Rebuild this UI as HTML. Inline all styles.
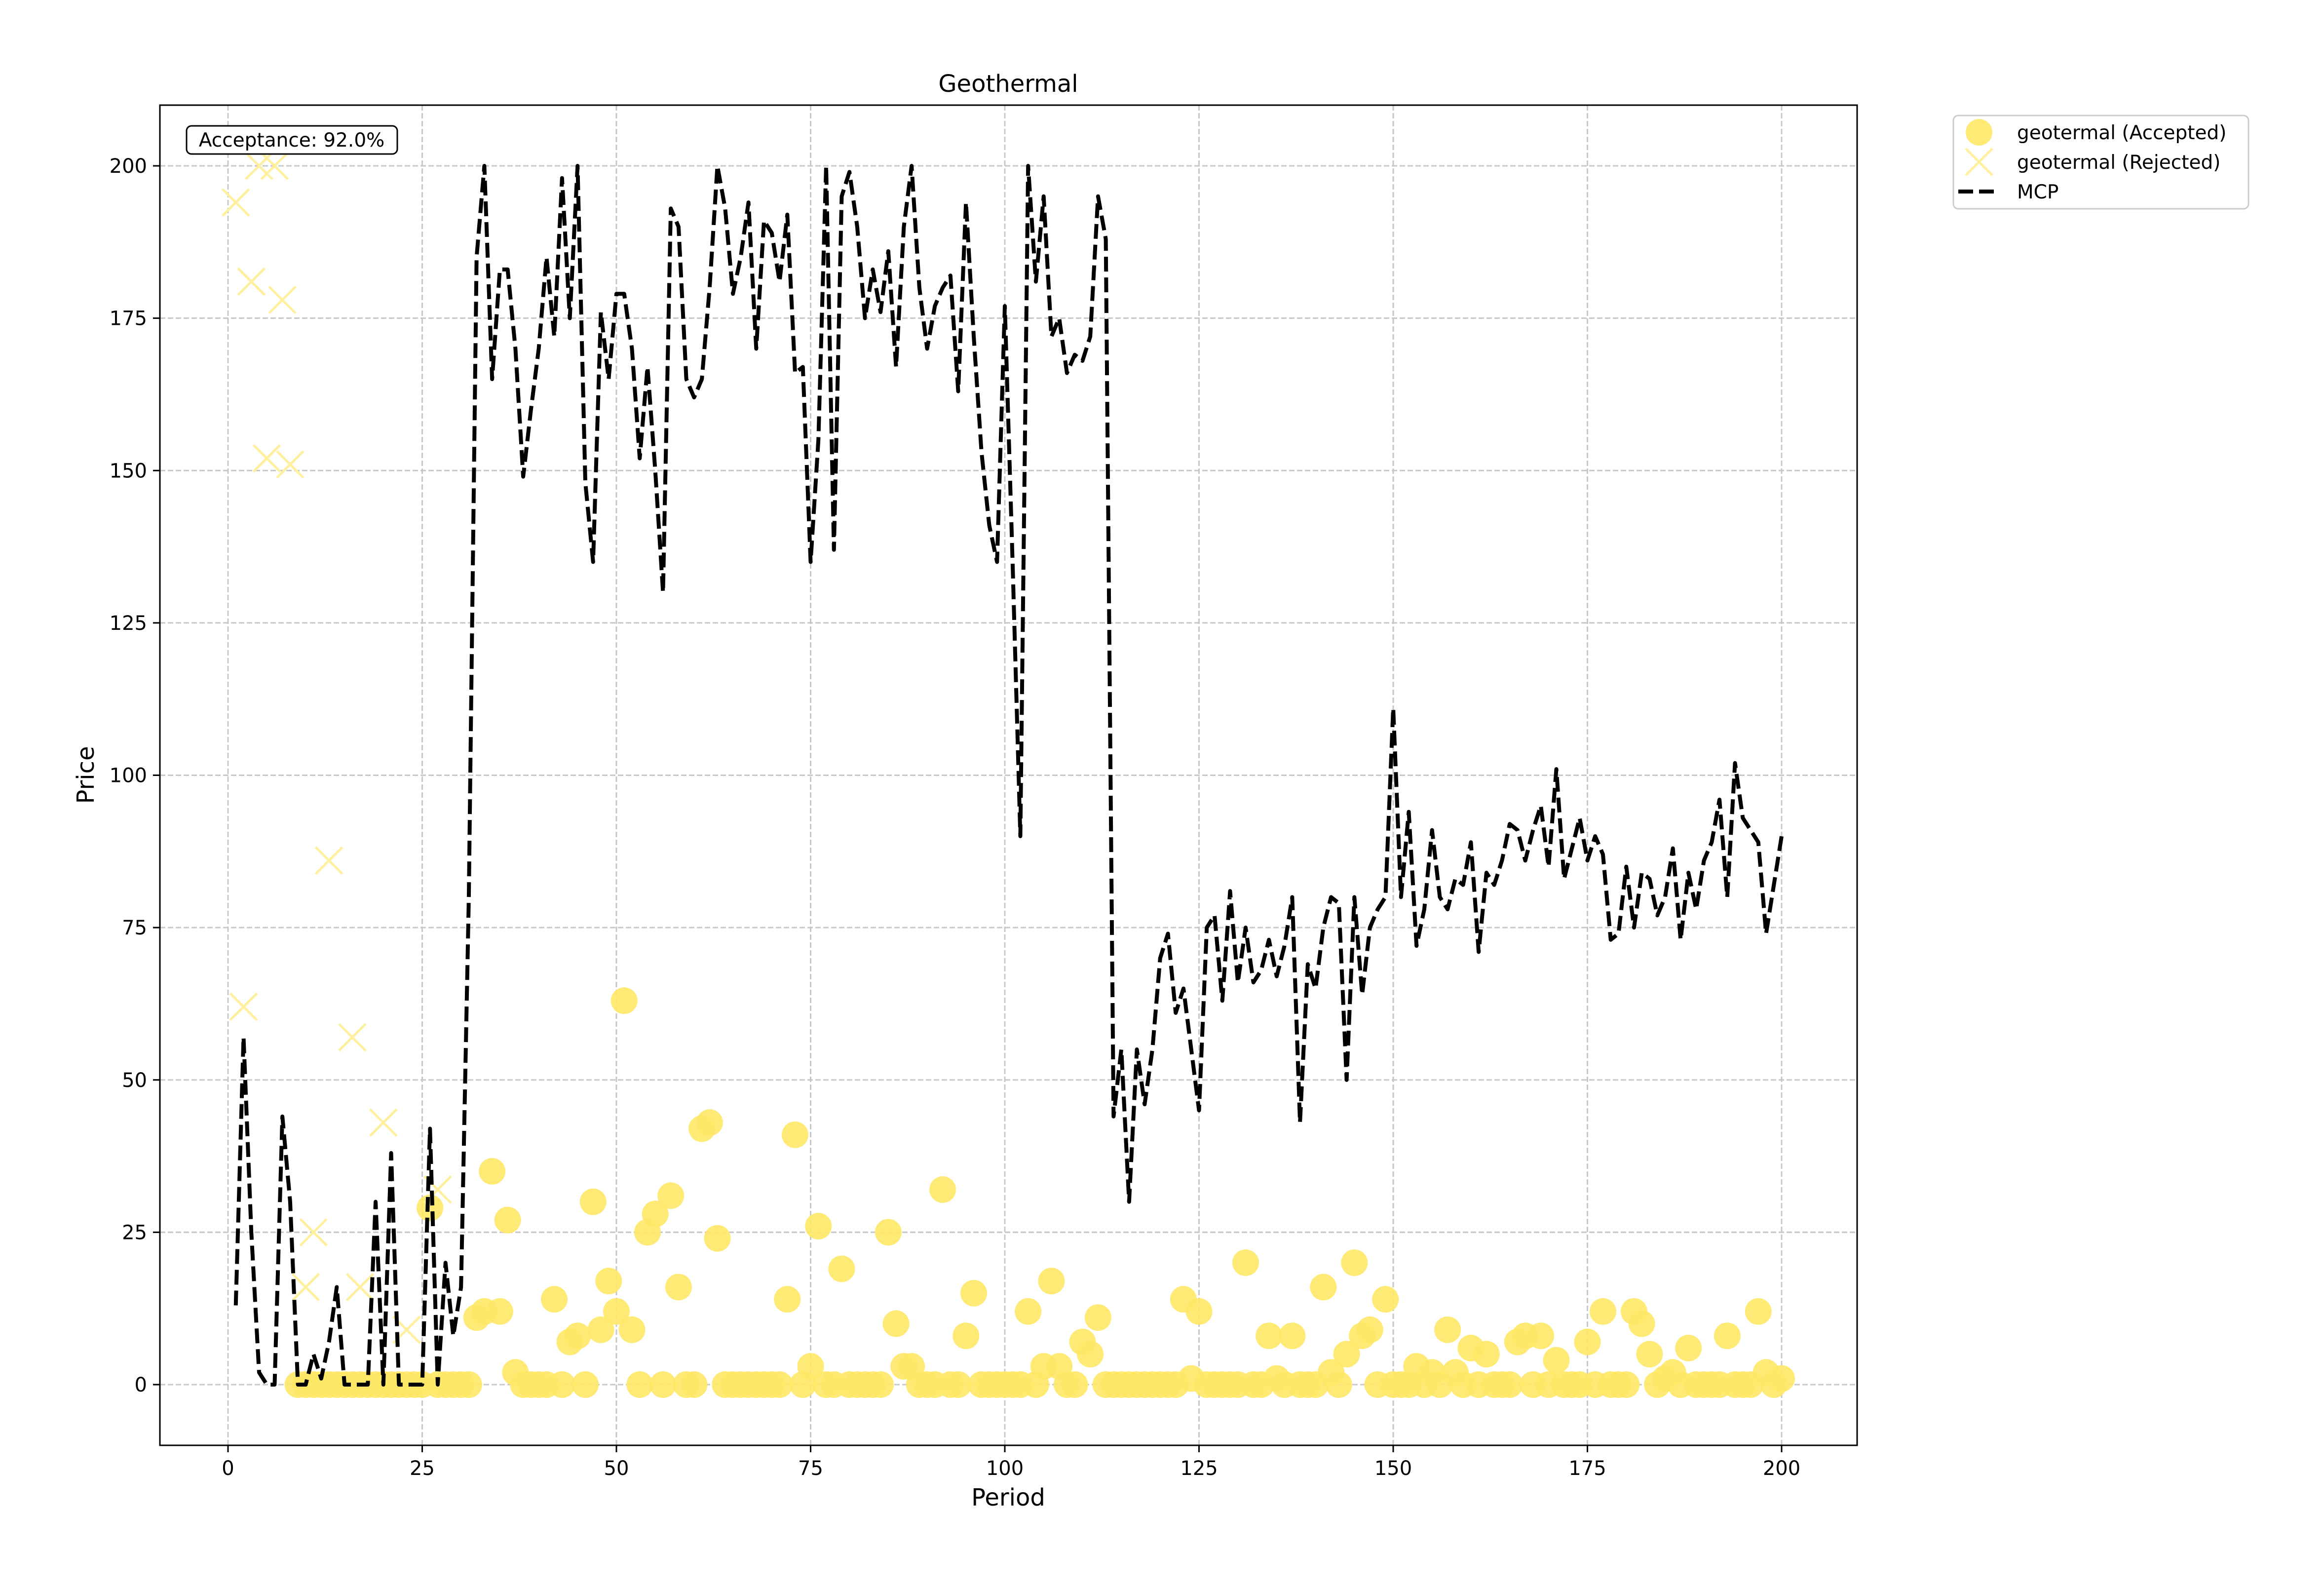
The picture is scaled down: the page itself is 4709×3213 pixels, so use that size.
<!DOCTYPE html>
<html><head><meta charset="utf-8"><style>
html,body{margin:0;padding:0;background:#fff;}
svg{display:block;font-family:"DejaVu Sans","Liberation Sans",sans-serif;}
</style></head><body>
<svg id="chart" width="4709" height="3213" viewBox="0 0 4709 3213" xmlns="http://www.w3.org/2000/svg">
<rect x="0" y="0" width="4709" height="3213" fill="#fff"/>
<g id="grid"></g>
<g id="marks"></g>
<rect x="324" y="213" width="3439" height="2715" fill="none" stroke="#000" stroke-width="3"/>
<g id="ticks"></g>
<text x="2043" y="186" font-size="48" text-anchor="middle">Geothermal</text>
<text x="2043" y="3050" font-size="48" text-anchor="middle">Period</text>
<text x="190" y="1570" font-size="48" text-anchor="middle" transform="rotate(-90 190 1570)">Price</text>
<g>
<rect x="378" y="255" width="427" height="57" rx="10" fill="#fff" stroke="#000" stroke-width="3"/>
<text x="591" y="297" font-size="39" text-anchor="middle">Acceptance: 92.0%</text>
</g>
<g>
<rect x="3958" y="234" width="598" height="189" rx="10" fill="#fff" stroke="#ccc" stroke-width="3"/>
<g>
<circle cx="4010" cy="268" r="27" fill="#ffe866" fill-opacity="0.9"/>
<text x="4087" y="282" font-size="39">geotermal (Accepted)</text></g>
<g>
<path d="M3983 301 L4037 355 M4037 301 L3983 355" stroke="#fff0a0" stroke-width="5"/>
<text x="4087" y="342" font-size="39">geotermal (Rejected)</text></g>
<g>
<path d="M3968 388 L4052 388" stroke="#000" stroke-width="8" stroke-dasharray="30 12"/>
<text x="4087" y="402" font-size="39">MCP</text></g>
</g>
</svg>
<script>
const periods = Array.from({length:200},(_,i)=>i+1);
const mcp = [13,57,25,2,0,0,44,30,0,0,5,1,7,16,0,0,0,0,30,0,38,0,0,0,0,42,0,20,8,16,
80,185,200,165,183,183,170,149,160,170,185,172,198,175,200,148,135,176,165,179,
179,170,152,167,150,130,193,190,165,162,165,180,200,193,179,185,194,170,191,189,
181,192,166,167,135,155,200,137,195,199,190,175,183,176,186,167,190,200,180,170,
177,180,182,163,194,172,153,141,135,177,135,90,200,181,195,172,175,166,169,168,
172,195,188,44,55,30,55,46,55,70,74,61,65,55,45,75,77,63,81,66,
75,66,68,73,67,72,80,43,69,65,75,80,79,50,80,64,75,78,80,111,
80,94,72,78,91,80,78,83,82,89,71,84,82,86,92,91,86,91,95,85,
101,83,88,93,86,90,87,73,74,85,75,84,83,77,80,88,73,84,78,86,
89,96,80,102,93,91,89,74,82,90];
const accepted = [null,null,null,null,null,null,null,null,0,0,0,0,0,0,0,0,0,0,0,0,0,0,0,0,0,29,0,0,0,0,
0,11,12,35,12,27,2,0,0,0,0,14,0,7,8,0,30,9,17,12,63,9,0,25,28,0,31,16,0,0,
42,43,24,0,0,0,0,0,0,0,0,14,41,0,3,26,0,0,19,0,0,0,0,0,25,10,3,3,0,0,
0,32,0,0,8,15,0,0,0,0,0,0,12,0,3,17,3,0,0,7,5,11,0,0,0,0,0,0,0,0,
0,0,14,1,12,0,0,0,0,0,20,0,0,8,1,0,8,0,0,0,16,2,0,5,20,8,9,0,14,0,
0,0,3,0,2,0,9,2,0,6,0,5,0,0,0,7,8,0,8,0,4,0,0,0,7,0,12,0,0,0,
12,10,5,0,1,2,0,6,0,0,0,0,8,0,0,0,12,2,0,1];
const rejPeriods = [1,2,3,4,5,6,7,8,10,11,13,16,17,20,23,27];
const rejPrices = [194,62,181,200,152,200,178,151,16,25,86,57,16,43,9,32];
const xTicks = [0,25,50,75,100,125,150,175,200];
const yTicks = [0,25,50,75,100,125,150,175,200];
const NS='http://www.w3.org/2000/svg';
const X0=462,X1=3610,Y0=2805,Y1=336,L=324,R=3763,T=213,B=2928;
const sx=v=>X0+(X1-X0)*v/200, sy=v=>Y0+(Y1-Y0)*v/200;
function mk(tag,attrs,parent){const e=document.createElementNS(NS,tag);for(const k in attrs)e.setAttribute(k,attrs[k]);parent.appendChild(e);return e;}
const grid=document.getElementById('grid'),marks=document.getElementById('marks'),ticks=document.getElementById('ticks');
xTicks.forEach(t=>{
  const g=mk('line',{x1:sx(t),x2:sx(t),y1:T,y2:B,stroke:'#c8c8c8','stroke-width':3,'stroke-dasharray':'11 5'},grid);
  
  
  const tk=mk('line',{x1:sx(t),x2:sx(t),y1:B,y2:B+14,stroke:'#000','stroke-width':3},ticks);
  
  
  const tx=mk('text',{x:sx(t),y:B+60,'font-size':40,'text-anchor':'middle'},ticks);
  tx.textContent=t;
  
  
});
yTicks.forEach(t=>{
  const g=mk('line',{x1:L,x2:R,y1:sy(t),y2:sy(t),stroke:'#c8c8c8','stroke-width':3,'stroke-dasharray':'11 5'},grid);
  
  
  const tk=mk('line',{x1:L-14,x2:L,y1:sy(t),y2:sy(t),stroke:'#000','stroke-width':3},ticks);
  
  
  const tx=mk('text',{x:L-26,y:sy(t)+14,'font-size':40,'text-anchor':'end'},ticks);
  tx.textContent=t;
  
  
});
accepted.forEach((v,i)=>{
  if(v===null)return;
  const c=mk('circle',{cx:sx(periods[i]),cy:sy(v),r:27,fill:'#ffe866','fill-opacity':0.9},marks);
  
  
});
rejPeriods.forEach((p,i)=>{
  const x=sx(p),y=sy(rejPrices[i]);
  const e=mk('path',{d:`M${x-27} ${y-27}L${x+27} ${y+27}M${x+27} ${y-27}L${x-27} ${y+27}`,stroke:'#fff0a0','stroke-width':5,fill:'none'},marks);
  
  
});
const line=mk('polyline',{points:mcp.map((v,i)=>sx(periods[i])+','+sy(v)).join(' '),fill:'none',stroke:'#000','stroke-width':8,'stroke-dasharray':'30 12','stroke-linejoin':'round'},marks);


</script>
</body></html>
